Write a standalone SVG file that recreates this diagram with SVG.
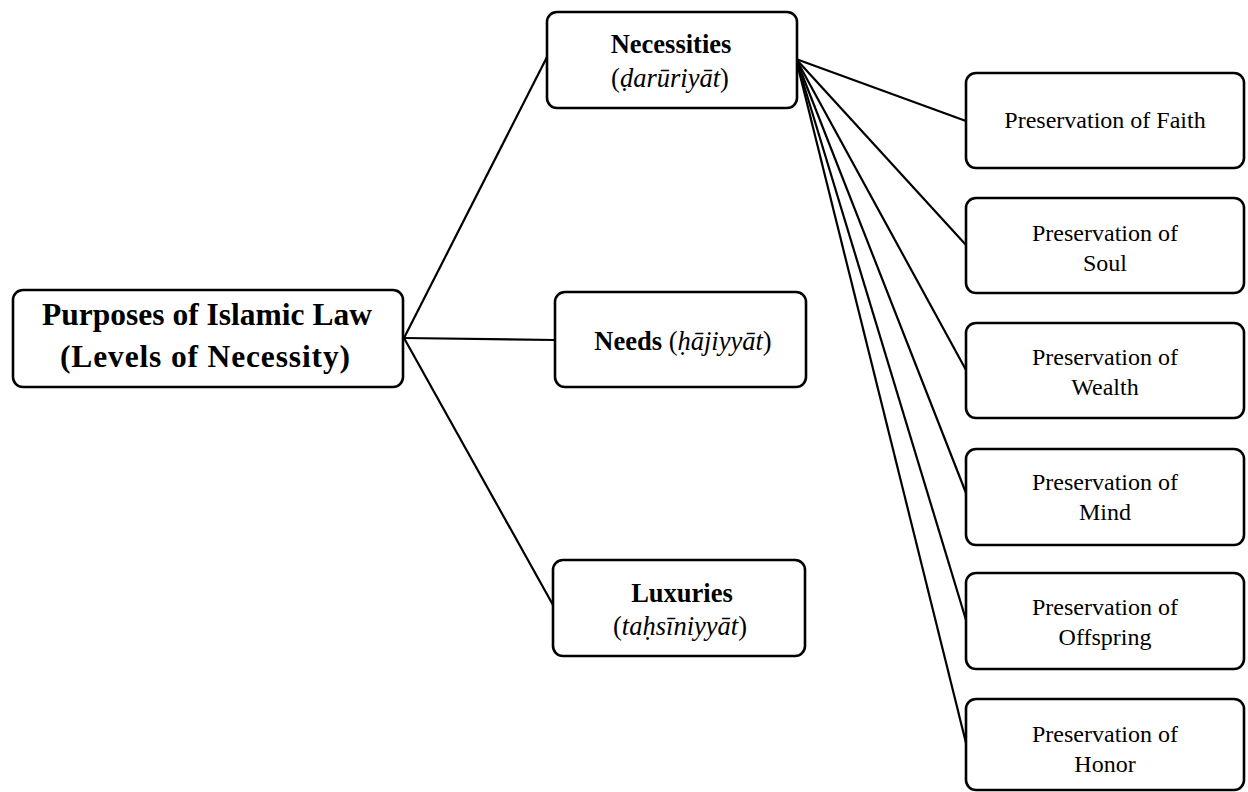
<svg xmlns="http://www.w3.org/2000/svg" width="1248" height="792" viewBox="0 0 1248 792">
<style>
.box{fill:#fff;stroke:#000;stroke-width:2.6}
.t{font-family:"Liberation Serif","Times New Roman",serif;fill:#000;text-anchor:middle}
.b{font-weight:bold}
.i{font-style:italic}
.root{font-size:31.5px;font-weight:bold}
.mid{font-size:26.5px}
.sm{font-size:24px}
.ln{stroke:#000;stroke-width:2.2;fill:none}
</style>
<rect width="1248" height="792" fill="#fff"/>
<g id="connectors">
<line class="ln" x1="404" y1="338" x2="547" y2="57"/>
<line class="ln" x1="404" y1="338" x2="555" y2="340"/>
<line class="ln" x1="404" y1="338" x2="553" y2="605"/>
<line class="ln" x1="796" y1="59" x2="966" y2="121"/>
<line class="ln" x1="796" y1="59" x2="966" y2="245"/>
<line class="ln" x1="796" y1="59" x2="966" y2="370"/>
<line class="ln" x1="796" y1="59" x2="966" y2="493"/>
<line class="ln" x1="796" y1="59" x2="966" y2="620"/>
<line class="ln" x1="796" y1="59" x2="966" y2="743"/>
</g>
<g id="root">
<rect class="box" x="13" y="290" width="390" height="97" rx="10"/>
<text class="t root" x="207" y="325">Purposes of Islamic Law</text>
<text class="t root" x="205" y="367" textLength="290" lengthAdjust="spacing">(Levels of Necessity)</text>
</g>
<g id="necessities">
<rect class="box" x="547" y="12" width="250" height="96" rx="10"/>
<text class="t mid b" x="671" y="53">Necessities</text>
<text class="t mid" x="670" y="87">(<tspan class="i">ḍarūriyāt</tspan>)</text>
</g>
<g id="needs">
<rect class="box" x="555" y="292" width="251" height="95" rx="10"/>
<text class="t mid" x="683" y="350"><tspan class="b">Needs</tspan> (<tspan class="i">ḥājiyyāt</tspan>)</text>
</g>
<g id="luxuries">
<rect class="box" x="553" y="560" width="252" height="96" rx="10"/>
<text class="t mid b" x="682" y="602">Luxuries</text>
<text class="t mid" x="680" y="635">(<tspan class="i">taḥsīniyyāt</tspan>)</text>
</g>
<g id="faith">
<rect class="box" x="966" y="73" width="278" height="95" rx="10"/>
<text class="t sm" x="1105" y="128">Preservation of Faith</text>
</g>
<g id="soul">
<rect class="box" x="966" y="198" width="278" height="95" rx="10"/>
<text class="t sm" x="1105" y="241">Preservation of</text>
<text class="t sm" x="1105" y="271">Soul</text>
</g>
<g id="wealth">
<rect class="box" x="966" y="323" width="278" height="95" rx="10"/>
<text class="t sm" x="1105" y="365">Preservation of</text>
<text class="t sm" x="1105" y="395">Wealth</text>
</g>
<g id="mind">
<rect class="box" x="966" y="449" width="278" height="96" rx="10"/>
<text class="t sm" x="1105" y="490">Preservation of</text>
<text class="t sm" x="1105" y="520">Mind</text>
</g>
<g id="offspring">
<rect class="box" x="966" y="573" width="278" height="96" rx="10"/>
<text class="t sm" x="1105" y="615">Preservation of</text>
<text class="t sm" x="1105" y="645">Offspring</text>
</g>
<g id="honor">
<rect class="box" x="966" y="699" width="278" height="91" rx="10"/>
<text class="t sm" x="1105" y="742">Preservation of</text>
<text class="t sm" x="1105" y="772">Honor</text>
</g>
</svg>
